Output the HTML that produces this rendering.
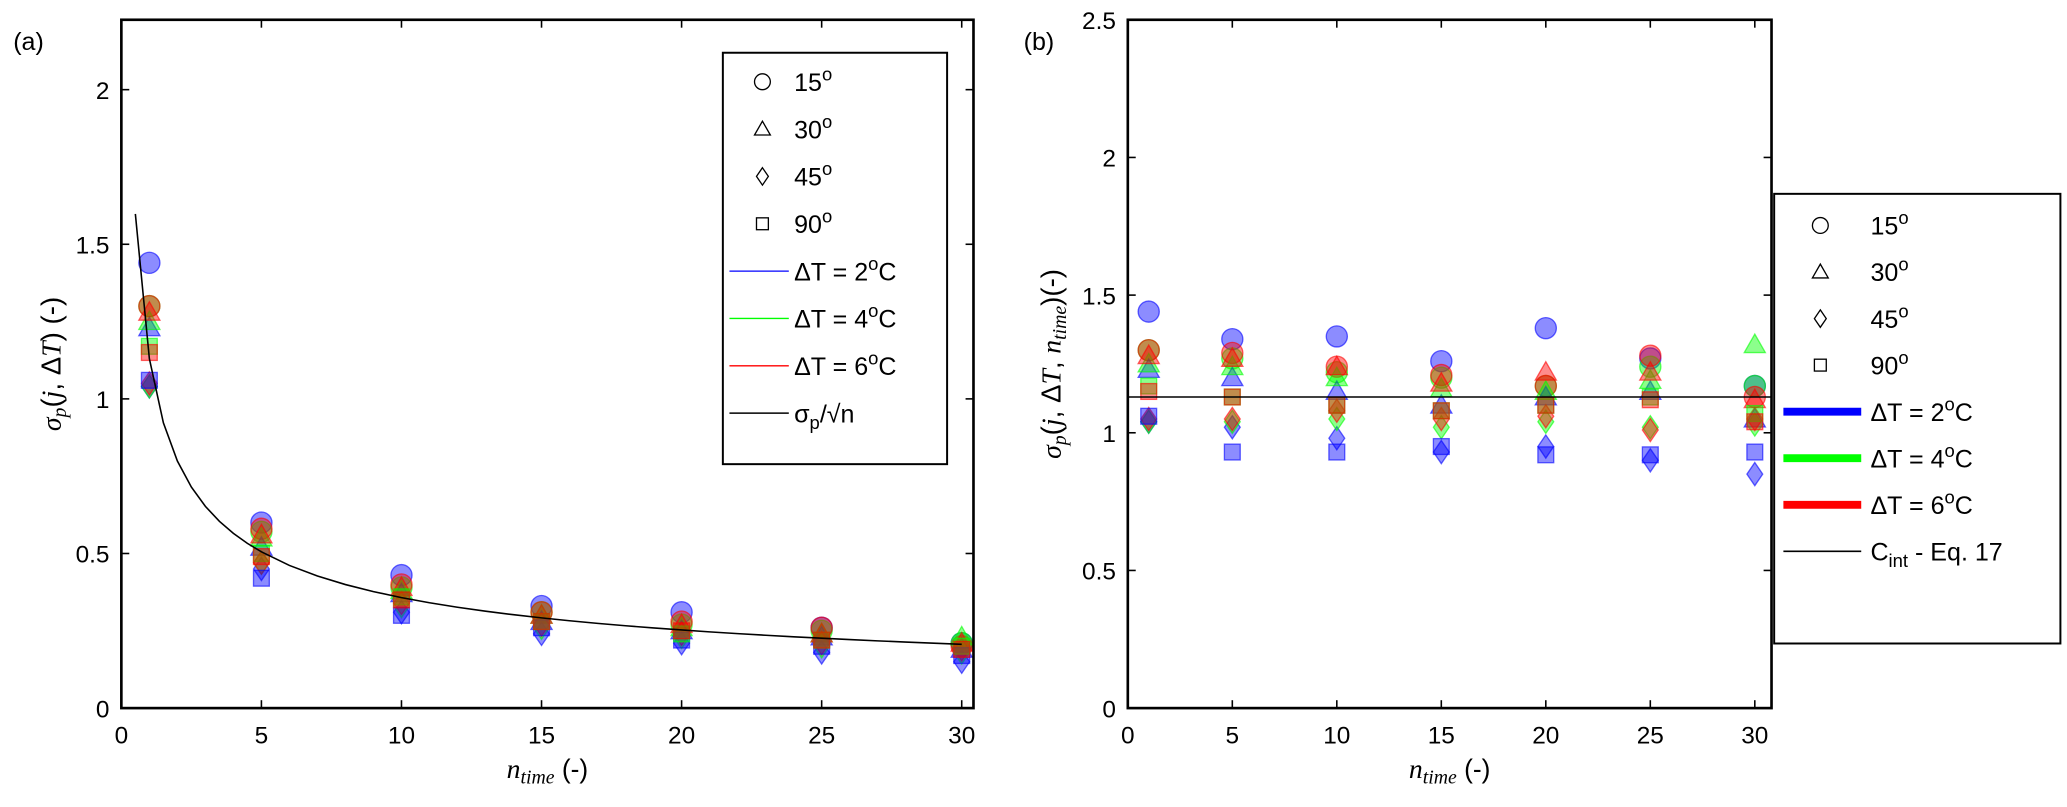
<!DOCTYPE html>
<html><head><meta charset="utf-8"><style>
html,body{margin:0;padding:0;background:#fff;}
svg{display:block;font-family:"Liberation Sans",sans-serif;}
.ser{font-family:"Liberation Serif",serif;font-style:italic;}
</style></head><body>
<svg id="fig" width="2067" height="807" viewBox="0 0 1567 612" preserveAspectRatio="none" xmlns="http://www.w3.org/2000/svg"></svg>
<script>
const nTime=[1,5,10,15,20,25,30];
const shapes=['circle','tri','diamond','square'];
const dTs=['2','4','6'];
const leftCircleB=[1.44,0.60,0.43,0.33,0.31,0.26,0.21];
const leftCircleG=[1.30,0.57,0.39,0.31,0.27,0.25,0.21];
const leftCircleR=[1.30,0.58,0.40,0.31,0.28,0.26,0.20];
const leftTriB=[1.23,0.52,0.37,0.28,0.25,0.23,0.19];
const leftTriG=[1.25,0.55,0.38,0.30,0.26,0.24,0.23];
const leftTriR=[1.28,0.56,0.39,0.30,0.27,0.24,0.21];
const leftDiaB=[1.04,0.45,0.31,0.24,0.21,0.18,0.15];
const leftDiaG=[1.04,0.47,0.33,0.26,0.23,0.20,0.18];
const leftDiaR=[1.05,0.47,0.34,0.27,0.24,0.21,0.19];
const leftSqB=[1.06,0.42,0.30,0.26,0.22,0.20,0.17];
const leftSqG=[1.17,0.50,0.36,0.28,0.24,0.22,0.20];
const leftSqR=[1.15,0.49,0.35,0.28,0.25,0.22,0.19];
const rightCircleB=[1.44,1.34,1.35,1.26,1.38,1.27,1.17];
const rightCircleG=[1.30,1.27,1.22,1.20,1.17,1.24,1.17];
const rightCircleR=[1.30,1.29,1.24,1.21,1.17,1.28,1.13];
const rightTriB=[1.23,1.20,1.15,1.10,1.13,1.15,1.05];
const rightTriG=[1.25,1.24,1.20,1.16,1.15,1.19,1.32];
const rightTriR=[1.28,1.27,1.24,1.18,1.22,1.22,1.12];
const rightDiaB=[1.04,1.02,0.98,0.93,0.95,0.90,0.85];
const rightDiaG=[1.04,1.04,1.05,1.02,1.04,1.02,1.03];
const rightDiaR=[1.05,1.05,1.08,1.05,1.06,1.01,1.05];
const rightSqB=[1.06,0.93,0.93,0.95,0.92,0.92,0.93];
const rightSqG=[1.17,1.13,1.10,1.08,1.10,1.13,1.07];
const rightSqR=[1.15,1.13,1.10,1.08,1.10,1.12,1.04];
const sigmaP=1.13;
const cInt=1.13;
const xTicks=[0,5,10,15,20,25,30];
const leftYTicks=[0,0.5,1,1.5,2];
const rightYTicks=[0,0.5,1,1.5,2,2.5];

const leftData=[[leftCircleB,leftCircleG,leftCircleR],[leftTriB,leftTriG,leftTriR],[leftDiaB,leftDiaG,leftDiaR],[leftSqB,leftSqG,leftSqR]];
const rightData=[[rightCircleB,rightCircleG,rightCircleR],[rightTriB,rightTriG,rightTriR],[rightDiaB,rightDiaG,rightDiaR],[rightSqB,rightSqG,rightSqR]];
const cols=['#0000ff','#00ff00','#ff0000'];
const NS='http://www.w3.org/2000/svg';
const svg=document.getElementById('fig');
function mk(tag,attrs,parent,text){const e=document.createElementNS(NS,tag);for(const k in attrs)e.setAttribute(k,attrs[k]);if(text!==undefined)e.textContent=text;(parent||svg).appendChild(e);return e;}

function marker(g,shape,cx,cy,col,r,fillOp,name){
  let e;
  if(shape==='circle') e=mk('circle',{cx:cx,cy:cy,r:r},g);
  else if(shape==='tri') e=mk('polygon',{points:`${cx},${cy-r} ${cx-r},${cy+r*0.75} ${cx+r},${cy+r*0.75}`},g);
  else if(shape==='diamond') e=mk('polygon',{points:`${cx},${cy-r*1.1} ${cx+r*0.75},${cy} ${cx},${cy+r*1.1} ${cx-r*0.75},${cy}`},g);
  else e=mk('rect',{x:cx-r*0.75,y:cy-r*0.75,width:r*1.5,height:r*1.5},g);
  e.setAttribute('fill',col==='none'?'none':col);
  e.setAttribute('fill-opacity',fillOp);
  e.setAttribute('stroke',col==='none'?'#000':col);
  e.setAttribute('stroke-opacity',col==='none'?1:0.6);
  e.setAttribute('stroke-width',1);
  
  
  return e;
}

function panel(opt){
  const {L,R,T,B,xmax,ymax,yTicks,data,name}=opt;
  const g=mk('g',{},svg);
  
  
  const sx=v=>L+(v/xmax)*(R-L);
  const sy=v=>B-(v/ymax)*(B-T);
  xTicks.forEach(t=>{
    const x=sx(t);
    mk('line',{x1:x,y1:B,x2:x,y2:B-6,stroke:'#000','stroke-width':1.2},g);
    mk('line',{x1:x,y1:T,x2:x,y2:T+6,stroke:'#000','stroke-width':1.2},g);
    const tl=mk('text',{x:x,y:B+27,'text-anchor':'middle','font-size':18.5},g,String(t));
    
    
  });
  yTicks.forEach(t=>{
    const y=sy(t);
    mk('line',{x1:L,y1:y,x2:L+6,y2:y,stroke:'#000','stroke-width':1.2},g);
    mk('line',{x1:R,y1:y,x2:R-6,y2:y,stroke:'#000','stroke-width':1.2},g);
    const tl=mk('text',{x:L-9,y:y+7,'text-anchor':'end','font-size':18.5},g,String(t));
    
    
  });
  const mg=mk('g',{},g);
  
  
  shapes.forEach((s,si)=>{
    data[si].forEach((arr,ci)=>{
      arr.forEach((v,xi)=>{
        marker(mg,s,sx(nTime[xi]),sy(v),cols[ci],8,0.45,'marker-'+s+'-dT'+dTs[ci]+'-n'+nTime[xi]);
      });
    });
  });
  if(opt.curve){
    const pts=[];
    for(let n=0.5;n<=30.51;n+=(n<5?0.5:1)) pts.push(sx(n)+','+sy(sigmaP/Math.sqrt(n)));
    const pl=mk('polyline',{points:pts.join(' '),fill:'none',stroke:'#000','stroke-width':1.2},g);
    
    
  }
  if(opt.hline){
    const hl=mk('line',{x1:L,x2:R,y1:sy(cInt),y2:sy(cInt),stroke:'#000','stroke-width':1.2},g);
    
    
  }
  const fr=mk('rect',{x:L,y:T,width:R-L,height:B-T,fill:'none',stroke:'#000','stroke-width':2},g);
  
  
  return {sx,sy};
}

panel({L:92,R:738,T:15,B:537,xmax:30.42,ymax:2.226,yTicks:leftYTicks,data:leftData,name:'panel-a',curve:true});
panel({L:855,R:1343,T:15,B:537,xmax:30.8,ymax:2.5,yTicks:rightYTicks,data:rightData,name:'panel-b',hline:true});

function legend(o){
  const g=mk('g',{},svg);
  
  
  mk('rect',{x:o.x,y:o.y,width:o.w,height:o.h,fill:'#fff',stroke:'#000','stroke-width':1.5},g);
  const lbl=['15','30','45','90'];
  shapes.forEach((s,i)=>{
    const y=o.y0+i*o.dy;
    marker(g,s,o.mx,y,'none',6,0,'legend-marker-'+s);
    const t=mk('text',{x:o.tx,y:y+7,'font-size':19},g);
    
    
    t.innerHTML=lbl[i]+'<tspan dy="-8" font-size="14">o</tspan>';
  });
  dTs.forEach((d,i)=>{
    const y=o.y0+(4+i)*o.dy;
    mk('line',{x1:o.lx1,x2:o.lx2,y1:y,y2:y,stroke:cols[i],'stroke-width':o.lw},g);
    const t=mk('text',{x:o.tx,y:y+7,'font-size':19},g);
    
    
    t.innerHTML='ΔT = '+d+'<tspan dy="-8" font-size="14">o</tspan><tspan dy="8">C</tspan>';
  });
  const y=o.y0+7*o.dy;
  mk('line',{x1:o.lx1,x2:o.lx2,y1:y,y2:y,stroke:'#000','stroke-width':1.2},g);
  const t=mk('text',{x:o.tx,y:y+7,'font-size':19},g);
  
  
  t.innerHTML=o.last;
}
legend({name:'legend-a',x:548,y:40,w:170,h:312,y0:62,dy:35.9,mx:578,tx:602,lx1:553,lx2:598,lw:1,
  last:'σ<tspan dy="5" font-size="14">p</tspan><tspan dy="-5">/√n</tspan>'});
legend({name:'legend-b',x:1345,y:147,w:217,h:341,y0:171,dy:35.3,mx:1380,tx:1418,lx1:1352,lx2:1411,lw:6,
  last:'C<tspan dy="5" font-size="14">int</tspan><tspan dy="-5"> - Eq. 17</tspan>'});

function txt(attrs,html,name,cls){const t=mk('text',attrs,svg);if(cls)t.setAttribute('class',cls);t.innerHTML=html;return t;}
txt({x:10,y:38,'font-size':19},'(a)','panel-a-label');
txt({x:776,y:38,'font-size':19},'(b)','panel-b-label');
txt({x:415,y:590,'font-size':21,'text-anchor':'middle'},'<tspan class="ser">n</tspan><tspan class="ser" font-size="15" dy="4">time</tspan><tspan dy="-4" font-size="20"> (-)</tspan>','x-axis-title-a');
txt({x:1099,y:590,'font-size':21,'text-anchor':'middle'},'<tspan class="ser">n</tspan><tspan class="ser" font-size="15" dy="4">time</tspan><tspan dy="-4" font-size="20"> (-)</tspan>','x-axis-title-b');
txt({x:0,y:0,'font-size':21,'text-anchor':'middle',transform:'translate(46,276) rotate(-90)'},'<tspan class="ser">σ</tspan><tspan class="ser" font-size="15" dy="4">p</tspan><tspan dy="-4">(</tspan><tspan class="ser">j</tspan>, Δ<tspan class="ser">T</tspan>) (-)','y-axis-title-a');
txt({x:0,y:0,'font-size':21,'text-anchor':'middle',transform:'translate(804,276) rotate(-90)'},'<tspan class="ser">σ</tspan><tspan class="ser" font-size="15" dy="4">p</tspan><tspan dy="-4">(</tspan><tspan class="ser">j</tspan>, Δ<tspan class="ser">T</tspan>, <tspan class="ser">n</tspan><tspan class="ser" font-size="15" dy="4">time</tspan><tspan dy="-4">)(-)</tspan>','y-axis-title-b');
</script>
</body></html>
